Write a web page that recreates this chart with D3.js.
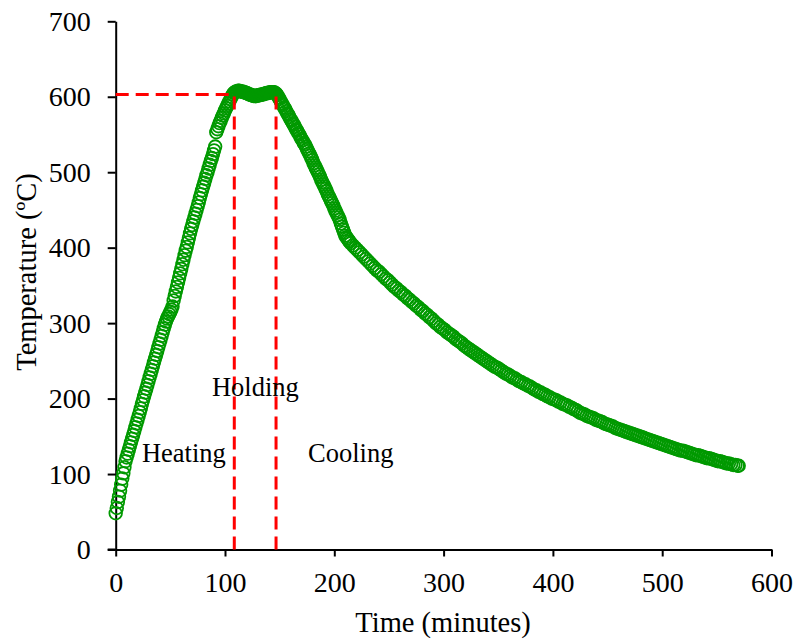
<!DOCTYPE html>
<html lang="en">
<head>
   <meta charset="utf-8">
   <title>Temperature profile</title>
   <script type="text/javascript" src="https://d3js.org/d3.v7.min.js"></script>
   <style>
      body { margin: 0; background: #fff; }
      svg text { font-family: "Liberation Serif", "Times New Roman", serif; fill: #000; }
   </style>
</head>
<body>
<div id="chart"></div>
<script type="text/javascript">

   // [time (minutes), temperature (ºC)]
   var heating = [
      [0,48],[1,55],[2,63],[3,70],[4,78],[5,86],[6,94],[7,101],[8,109],[9,117],
      [10,122],[11,127],[12,132],[13,137],[14,142],[15,147],[16,152],[17,157],[18,162],[19,167],
      [20,172],[21,177],[22,182],[23,187],[24,193],[25,198],[26,203],[27,208],[28,213],[29,218],
      [30,223],[31,228],[32,233],[33,238],[34,243],[35,248],[36,253],[37,258],[38,263],[39,268],
      [40,273],[41,278],[42,283],[43,288],[44,293],[45,298],[46,302],[47,306],[48,309],[49,312],
      [50,315],[51,318],[52,322],[53,330],[54,336],[55,342],[56,348],[57,354],[58,360],[59,366],
      [60,372],[61,378],[62,384],[63,390],[64,396],[65,401],[66,407],[67,413],[68,419],[69,425],
      [70,430],[71,435],[72,440],[73,445],[74,450],[75,455],[76,460],[77,466],[78,471],[79,476],
      [80,481],[81,486],[82,491],[83,496],[84,500],[85,505],[86,510],[87,515],[88,519],[89,524],
      [90,529],[91,534],[92,553],[93,557],[94,561],[95,565],[96,568],[97,572],[98,575],[99,578],
      [100,582],[101,585],[102,588],[103,591],[104,594],[105,597],[106,600],[107,603]
   ];

   var holding = [
      [108,605],[109,606],[110,607],[111,607],[112,608],[113,608],[114,607],[115,607],[116,607],[117,606],
      [118,606],[119,605],[120,605],[121,604],[122,603],[123,603],[124,602],[125,602],[126,601],[127,601],
      [128,601],[129,601],[130,602],[131,602],[132,602],[133,603],[134,603],[135,603],[136,604],[137,604],
      [138,605],[139,605],[140,605],[141,606],[142,606],[143,606],[144,606],[145,606],[146,605],[147,604]
   ];

   var cooling = [
      [148,602],[149,599],[150,597],[151,594],[152,591],[153,589],[154,586],[155,584],[156,581],[157,578],
      [158,576],[159,573],[160,570],[161,568],[162,565],[163,563],[164,560],[165,557],[166,555],[167,552],
      [168,550],[169,547],[170,544],[171,542],[172,539],[173,537],[174,534],[175,531],[176,528],[177,525],
      [178,522],[179,519],[180,516],[181,512],[182,509],[183,506],[184,503],[185,500],[186,497],[187,494],
      [188,490],[189,487],[190,484],[191,481],[192,478],[193,475],[194,471],[195,468],[196,465],[197,462],
      [198,459],[199,456],[200,452],[201,449],[202,446],[203,443],[204,440],[205,437],[206,432],[207,428],
      [208,424],[209,420],[210,416],[211,414],[212,412],[213,410],[214,408],[215,406],
      [217,403],[219,400],[221,397],[223,394],[225,391],[227,388],[229,385],[231,382],[233,379],[235,376],
      [237,373],[239,370],[241,368],[243,365],[245,362],[247,359],[249,357],[251,354],[253,351],[255,348],
      [257,346],[259,343],[261,341],[263,338],[265,336],[267,333],[269,331],[271,328],[273,326],[275,323],
      [277,321],[279,318],[281,316],[283,313],[285,311],[287,308],[289,306],[291,303],[293,300],[295,298],
      [297,295],[299,293],[301,291],[303,288],[305,286],[307,284],[309,282],[311,279],[313,277],[315,275],
      [317,273],[319,270],[321,268],[323,266],[325,264],[327,262],[329,260],[331,258],[333,256],[335,254],
      [337,252],[339,250],[341,248],[343,246],[345,244],[347,242],[349,241],[351,239],[353,237],[355,235],
      [357,233],[359,232],[361,230],[363,228],[365,227],[367,225],[369,223],[371,222],[373,220],[375,219],
      [377,217],[379,216],[381,214],[383,212],[385,211],[387,209],[389,208],[391,206],[393,205],[395,203],
      [397,202],[399,200],[401,199],[403,198],[405,196],[407,195],[409,193],[411,192],[413,191],[415,189],
      [417,188],[419,186],[421,185],[423,183],[425,181],[427,180],[429,179],[431,177],[433,176],[435,175],
      [437,174],[439,172],[441,171],[443,170],[445,169],[447,167],[449,166],[451,165],[453,164],[455,163],
      [457,161],[459,160],[461,159],[463,158],[465,157],[467,156],[469,155],[471,154],[473,153],[475,152],
      [477,151],[479,150],[481,149],[483,148],[485,147],[487,146],[489,145],[491,144],[493,143],[495,142],
      [497,141],[499,140],[501,139],[503,138],[505,137],[507,136],[509,135],[511,134],[513,133],[515,132],
      [517,131],[519,131],[521,130],[523,129],[525,128],[527,127],[529,126],[531,125],[533,125],[535,124],
      [537,123],[539,122],[541,121],[543,121],[545,120],[547,119],[549,118],[551,117],[553,117],[555,116],
      [557,115],[559,114],[561,114],[563,113],[565,112],[567,112],[569,111],[570,111]
   ];

   var xTicks = [0, 100, 200, 300, 400, 500, 600];
   var yTicks = [0, 100, 200, 300, 400, 500, 600, 700];

   // phase boundaries (dashed guides) and target temperature
   var phaseStart = 108.5;
   var phaseEnd = 146.7;
   var holdTemp = 603;

   var phaseLabels = [
      {name: "Heating", t: 24, T: 116},
      {name: "Holding", t: 88, T: 203},
      {name: "Cooling", t: 176, T: 116}
   ];

   var width = 797, height = 641;
   var serif = '"Liberation Serif", "Times New Roman", serif';

   var svg = d3.select('#chart')
               .append('svg')
               .attr('width', width)
               .attr('height', height);

   var x = d3.scaleLinear()
             .domain([0, 600])
             .range([115.7, 771.5]);

   var y = d3.scaleLinear()
             .domain([0, 700])
             .range([549.5, 21.3]);

   // axes
   var xAxis = svg.append('g')
      .attr('transform', 'translate(0,' + y(0) + ')')
      .call(d3.axisBottom(x).tickValues(xTicks).tickSize(7).tickSizeOuter(0).tickPadding(16));

   var yAxis = svg.append('g')
      .attr('transform', 'translate(' + x(0) + ',0)')
      .call(d3.axisLeft(y).tickValues(yTicks).tickSize(8).tickSizeOuter(0).tickPadding(17));

   [xAxis, yAxis].forEach(function(ax){
      ax.attr('font-family', serif).attr('font-size', 28);
      ax.select('.domain').attr('stroke', '#000').attr('stroke-width', 2);
      ax.selectAll('.tick line').attr('stroke', '#000').attr('stroke-width', 2);
      ax.selectAll('.tick text')
        .attr('fill', '#000')
        .style('font-family', serif)
        .style('font-size', '28px');
   });

   // extend x axis line left to y-axis tick length
   svg.append('line')
      .attr('x1', x(0) - 8).attr('x2', x(0))
      .attr('y1', y(0)).attr('y2', y(0))
      .attr('stroke', '#000').attr('stroke-width', 2);

   // data points
   var allPoints = heating.concat(holding).concat(cooling);

   svg.append('g')
      .selectAll('circle')
      .data(allPoints)
      .enter()
      .append('circle')
      .attr('cx', function(d){ return x(d[0]); })
      .attr('cy', function(d){ return y(d[1]); })
      .attr('r', 6.3)
      .attr('fill', 'none')
      .attr('stroke', '#009900')
      .attr('stroke-width', 1.8);

   // dashed guide lines
   var guides = svg.append('g')
      .attr('stroke', '#ff0000')
      .attr('stroke-width', 3)
      .attr('stroke-dasharray', '13,7')
      .attr('fill', 'none');

   guides.append('line')
      .attr('x1', x(0)).attr('x2', x(phaseStart))
      .attr('y1', y(holdTemp)).attr('y2', y(holdTemp));

   [phaseStart, phaseEnd].forEach(function(t){
      guides.append('line')
         .attr('x1', x(t)).attr('x2', x(t))
         .attr('y1', y(0)).attr('y2', y(holdTemp));
   });

   // phase labels
   svg.selectAll('.phase')
      .data(phaseLabels)
      .enter()
      .append('text')
      .attr('class', 'phase')
      .attr('x', function(d){ return x(d.t); })
      .attr('y', function(d){ return y(d.T); })
      .attr('font-size', 26.5)
      .text(function(d){ return d.name; });

   // axis titles
   svg.append('text')
      .attr('x', x(300) - 0.5)
      .attr('y', 632)
      .attr('text-anchor', 'middle')
      .attr('font-size', 28.5)
      .text('Time (minutes)');

   svg.append('text')
      .attr('transform', 'translate(36,272) rotate(-90)')
      .attr('text-anchor', 'middle')
      .attr('font-size', 28.5)
      .text('Temperature (ºC)');

</script>
</body>
</html>
